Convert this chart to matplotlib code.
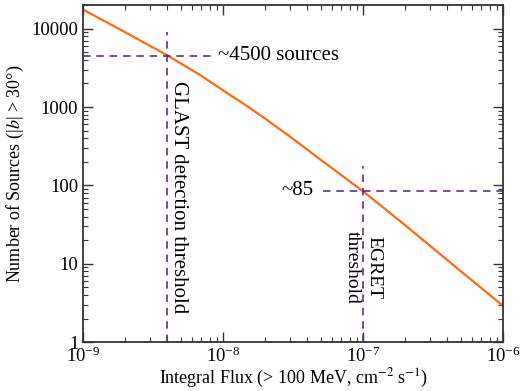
import matplotlib
matplotlib.use("Agg")
import matplotlib.pyplot as plt
from matplotlib.ticker import LogLocator, FuncFormatter, NullFormatter

plt.rcParams['font.family'] = ['Liberation Serif', 'DejaVu Serif']
plt.rcParams['mathtext.fontset'] = 'stix'

# Data
flux = [1e-9, 2e-9, 4e-9, 7e-9, 1e-8, 1.5e-8, 2e-8, 3e-8, 5e-8, 1e-7, 2e-7, 3e-7, 5e-7, 1e-6]
counts = [17500, 9000, 4560, 2500, 1630, 1015, 710, 420, 211, 84, 31, 17, 8.0, 2.9]

glast_flux = 4e-9
glast_count = 4500
egret_flux = 1e-7
egret_count = 85

line_color = '#FF6A13'
dash_color = '#5A2D91'

fig = plt.figure(figsize=(5.23, 3.91), dpi=100)
ax = fig.add_axes([0.159, 0.125, 0.803, 0.862])

ax.plot(flux, counts, color=line_color, lw=1.6)
ax.set_xscale('log')
ax.set_yscale('log')
ax.set_xlim(1e-9, 1e-6)
ax.set_ylim(1, 20000)

dash = (0, (4.5, 3.5))
ax.plot([glast_flux, glast_flux], [1, 9200], color=dash_color, lw=1.2, linestyle=dash)
ax.plot([1e-9, 8.4e-9], [glast_count, glast_count], color=dash_color, lw=1.2, linestyle=dash)
ax.plot([egret_flux, egret_flux], [1, 175], color=dash_color, lw=1.2, linestyle=dash)
ax.plot([5.15e-8, 1e-6], [egret_count, egret_count], color=dash_color, lw=1.2, linestyle=dash)

ax.text(9.25e-9, glast_count, '~4500 sources', fontsize=15, va='center', ha='left')
ax.text(4.43e-8, egret_count, '~85', fontsize=15, va='center', ha='right')
ax.text(4.8e-9, 70, 'GLAST detection threshold', fontsize=15, rotation=-90,
        va='center', ha='center')
ax.text(1.0e-7, 8.9, 'EGRET\nthreshold', fontsize=14, rotation=-90,
        va='center', ha='center', multialignment='center', linespacing=1.3)

ax.yaxis.set_major_locator(LogLocator(base=10, numticks=10))
ax.yaxis.set_minor_locator(LogLocator(base=10, subs=range(2, 10), numticks=20))
ax.yaxis.set_major_formatter(FuncFormatter(lambda v, p: '%d' % round(v)))
ax.yaxis.set_minor_formatter(NullFormatter())
ax.xaxis.set_minor_formatter(NullFormatter())

ax.tick_params(which='both', direction='in', top=True, right=True, colors='#333333',
               labelcolor='black')
ax.tick_params(which='major', length=7, width=1.0, labelsize=13.5)
ax.tick_params(which='minor', length=3.5, width=0.8)
ax.tick_params(axis='x', which='major', pad=3)

for s in ax.spines.values():
    s.set_linewidth(1.3)
    s.set_color('#333333')

ax.set_xlabel(r'Integral Flux (> 100 MeV, cm$^{-2}$ s$^{-1}$)', fontsize=13, labelpad=1)
ax.set_ylabel(r'Number of Sources (|$b$| > 30°)', fontsize=13, labelpad=4)

fig.savefig('out.png', dpi=100)
